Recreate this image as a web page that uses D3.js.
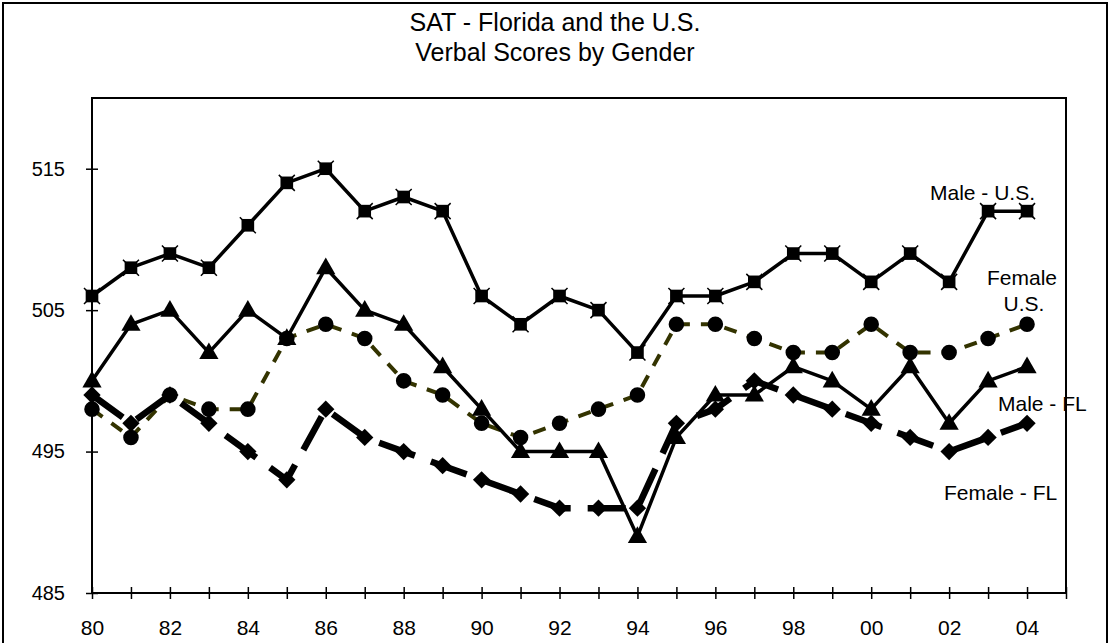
<!DOCTYPE html>
<html>
<head>
<meta charset="utf-8">
<script src="https://cdn.jsdelivr.net/npm/d3@7"></script>
<style>
  body { margin: 0; background: #fff; }
  text { font-family: "Liberation Sans", Arial, sans-serif; fill: #000; }
</style>
</head>
<body>
<svg id="chart" width="1111" height="643"></svg>
<script>
const years = [1980, 1981, 1982, 1983, 1984, 1985, 1986, 1987, 1988, 1989, 1990, 1991, 1992,
  1993, 1994, 1995, 1996, 1997, 1998, 1999, 2000, 2001, 2002, 2003, 2004];
const maleUS = [506, 508, 509, 508, 511, 514, 515, 512, 513, 512, 506, 504, 506,
  505, 502, 506, 506, 507, 509, 509, 507, 509, 507, 512, 512];
const femaleUS = [498, 496, 499, 498, 498, 503, 504, 503, 500, 499, 497, 496, 497,
  498, 499, 504, 504, 503, 502, 502, 504, 502, 502, 503, 504];
const maleFL = [500, 504, 505, 502, 505, 503, 508, 505, 504, 501, 498, 495, 495,
  495, 489, 496, 499, 499, 501, 500, 498, 501, 497, 500, 501];
const femaleFL = [499, 497, 499, 497, 495, 493, 498, 496, 495, 494, 493, 492, 491,
  491, 491, 497, 498, 500, 499, 498, 497, 496, 495, 496, 497];
const yTicks = [485, 495, 505, 515];
const titleLines = ["SAT - Florida and the U.S.", "Verbal Scores by Gender"];

const plot = { left: 92, top: 98, right: 1066, bottom: 593 };

const svg = d3.select("#chart");

// outer frame (bottom edge runs off the picture)
svg.append("rect")
  .attr("x", 3).attr("y", 3)
  .attr("width", 1104).attr("height", 700)
  .attr("fill", "none").attr("stroke", "#000").attr("stroke-width", 2);

const x = d3.scaleLinear()
  .domain([1980, 2005])
  .range([plot.left, plot.right]);
const y = d3.scaleLinear()
  .domain([485, 520])
  .range([plot.bottom, plot.top]);

// plot frame
svg.append("rect")
  .attr("x", plot.left).attr("y", plot.top)
  .attr("width", plot.right - plot.left).attr("height", plot.bottom - plot.top)
  .attr("fill", "none").attr("stroke", "#000").attr("stroke-width", 2);

// title
svg.selectAll(".title")
  .data(titleLines)
  .join("text")
  .attr("class", "title")
  .attr("x", 555)
  .attr("y", (d, i) => 31 + i * 30)
  .attr("text-anchor", "middle")
  .attr("font-size", 25)
  .text((d) => d);

// x axis
const xTicks = years.concat([2005]);
svg.append("g")
  .attr("transform", `translate(0, ${plot.bottom})`)
  .call(d3.axisBottom(x)
    .tickValues(xTicks)
    .tickSize(6)
    .tickPadding(21)
    .tickFormat((d) => (d % 2 === 0 && d < 2005) ? d3.format("02")(d % 100) : ""))
  .call((g) => {
    g.select(".domain").attr("stroke-width", 2).attr("d", `M${plot.left},0H${plot.right}`);
    g.selectAll(".tick line").attr("y1", -6).attr("y2", 6).attr("stroke-width", 1.5);
    g.selectAll(".tick text").attr("font-size", 21).attr("font-family", null);
  });

// y axis
svg.append("g")
  .attr("transform", `translate(${plot.left}, 0)`)
  .call(d3.axisLeft(y)
    .tickValues(yTicks)
    .tickSize(6)
    .tickPadding(21))
  .call((g) => {
    g.select(".domain").attr("stroke-width", 2).attr("d", `M0,${plot.top}V${plot.bottom}`);
    g.selectAll(".tick line").attr("x1", -6).attr("x2", 6).attr("stroke-width", 1.5);
    g.selectAll(".tick text").attr("font-size", 20).attr("font-family", null);
  });

const line = d3.line()
  .x((d) => x(d.year))
  .y((d) => y(d.value));

const series = [
  { name: "maleUS", values: maleUS, color: "#000", width: 3.5, dash: null, marker: "square" },
  { name: "femaleUS", values: femaleUS, color: "#333300", width: 4, dash: "13,11", marker: "circle" },
  { name: "maleFL", values: maleFL, color: "#000", width: 3.5, dash: null, marker: "triangle" },
  { name: "femaleFL", values: femaleFL, color: "#000", width: 6.5, dash: "38,17", marker: "diamond" }
];

const symbols = {
  square: d3.symbol(d3.symbolSquare, 160),
  circle: d3.symbol(d3.symbolCircle, 190),
  triangle: d3.symbol(d3.symbolTriangle, 160),
  diamond: d3.symbol(d3.symbolSquare, 150)
};

series.forEach((s) => {
  const pts = years.map((yr, i) => ({ year: yr, value: s.values[i] }));
  const g = svg.append("g").attr("class", s.name);
  g.append("path")
    .datum(pts)
    .attr("d", line)
    .attr("fill", "none")
    .attr("stroke", s.color)
    .attr("stroke-width", s.width)
    .attr("stroke-dasharray", s.dash)
    .attr("stroke-linejoin", "round");
  const m = g.selectAll(".marker")
    .data(pts)
    .join("g")
    .attr("class", "marker")
    .attr("transform", (d) => `translate(${x(d.year)}, ${y(d.value)})`);
  m.append("path")
    .attr("d", symbols[s.marker]())
    .attr("transform", s.marker === "diamond" ? "rotate(45)" : s.marker === "triangle" ? "translate(0,1)" : null)
    .attr("fill", "#000");
  if (s.marker === "square") {
    m.append("path")
      .attr("d", "M-8,-8L8,8M-8,8L8,-8")
      .attr("stroke", "#000")
      .attr("stroke-width", 1.5);
  }
});

// series labels
const labels = [
  { text: "Male - U.S.", x: 930, y: 200, anchor: "start" },
  { text: "Female", x: 1022, y: 285, anchor: "middle" },
  { text: "U.S.", x: 1024, y: 311, anchor: "middle" },
  { text: "Male - FL", x: 998, y: 411, anchor: "start" },
  { text: "Female - FL", x: 944, y: 500, anchor: "start" }
];
svg.selectAll(".label")
  .data(labels)
  .join("text")
  .attr("class", "label")
  .attr("x", (d) => d.x)
  .attr("y", (d) => d.y)
  .attr("text-anchor", (d) => d.anchor)
  .attr("font-size", 21)
  .text((d) => d.text);
</script>
</body>
</html>
